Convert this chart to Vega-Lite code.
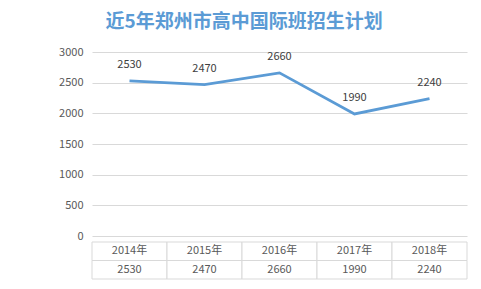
{
  "$schema": "https://vega.github.io/schema/vega-lite/v6.json",
  "autosize": {"type": "pad"},
  "padding": {"left": 58, "top": 13, "right": 14, "bottom": 14},
  "background": "white",
  "title": {
    "text": "近5年郑州市高中国际班招生计划",
    "font": "Noto Sans CJK SC",
    "fontSize": 19,
    "fontWeight": "bold",
    "color": "#5B9BD5",
    "anchor": "middle",
    "dx": -19,
    "offset": 14
  },
  "data": {
    "values": [
      {"year": "2014年", "value": 2530},
      {"year": "2015年", "value": 2470},
      {"year": "2016年", "value": 2660},
      {"year": "2017年", "value": 1990},
      {"year": "2018年", "value": 2240}
    ]
  },
  "spacing": 0,
  "vconcat": [
    {
      "width": 375,
      "height": 184,
      "encoding": {
        "x": {"field": "year", "type": "nominal", "sort": null, "scale": {"type": "band", "paddingInner": 0, "paddingOuter": 0}, "axis": null},
        "y": {"field": "value", "type": "quantitative", "scale": {"domain": [0, 3000]},
          "axis": {"values": [0, 500, 1000, 1500, 2000, 2500, 3000], "format": "d", "title": null, "domain": false, "ticks": false, "labelPadding": 9,
            "labelFont": "Noto Sans CJK SC", "labelFontSize": 11, "labelColor": "#595959", "gridColor": "#d9d9d9", "gridWidth": 1}}
      },
      "layer": [
        {"mark": {"type": "line", "color": "#5B9BD5", "strokeWidth": 2.75}},
        {"mark": {"type": "text", "baseline": "bottom", "dy": -11, "font": "Noto Sans CJK SC", "fontSize": 11, "color": "#404040"},
          "encoding": {"text": {"field": "value", "type": "quantitative", "format": "d"}}}
      ]
    },
    {
      "width": 375,
      "height": 37,
      "transform": [{"fold": ["year", "value"], "as": ["row", "cell"]}],
      "encoding": {
        "x": {"field": "year", "type": "nominal", "sort": null, "scale": {"type": "band", "paddingInner": 0, "paddingOuter": 0}, "axis": null},
        "y": {"field": "row", "type": "nominal", "sort": ["year", "value"], "scale": {"type": "band", "paddingInner": 0, "paddingOuter": 0}, "axis": null}
      },
      "layer": [
        {"mark": {"type": "rect", "fill": "white", "stroke": "#d9d9d9", "strokeWidth": 1}},
        {"mark": {"type": "text", "font": "Noto Sans CJK SC", "fontSize": 11, "color": "#595959"},
          "encoding": {"text": {"field": "cell", "type": "nominal"}}}
      ]
    }
  ],
  "config": {"view": {"stroke": null}}
}
